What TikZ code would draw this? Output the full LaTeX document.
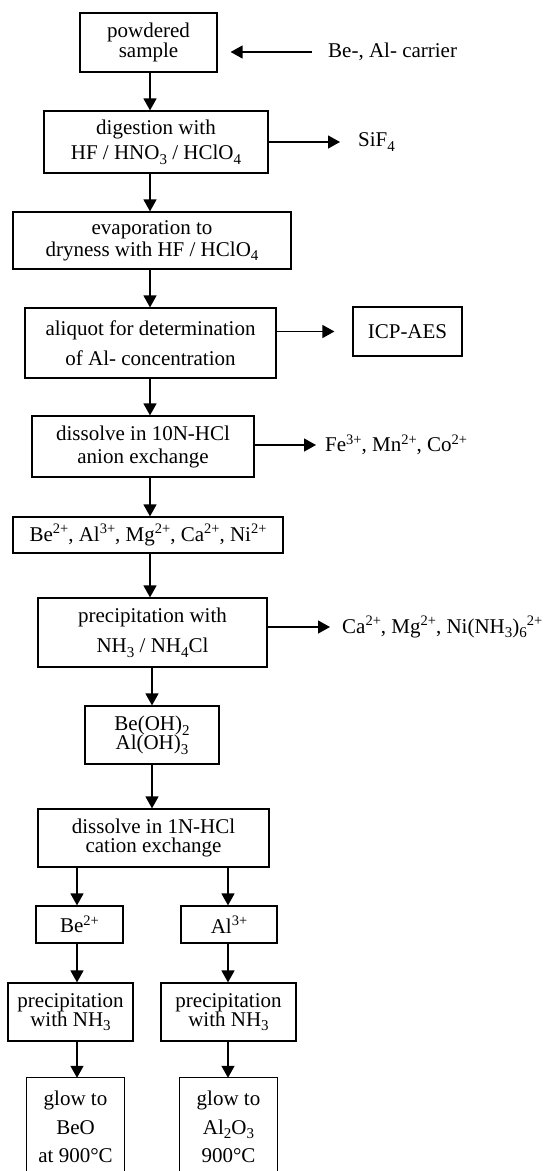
\documentclass[tikz,border=0pt]{standalone}
\usepackage{fontspec}
\setmainfont{Liberation Serif}
\usetikzlibrary{arrows.meta}
\newcommand{\sbs}[1]{\raisebox{-0.22em}{\fontsize{15}{15}\selectfont #1}}
\newcommand{\sps}[1]{\raisebox{0.36em}{\fontsize{14.5}{14.5}\selectfont #1}}
\tikzset{
  txt/.style={font=\fontsize{21}{20}\selectfont},
  box/.style={txt, draw, line width=1.2pt, inner sep=0pt, align=center},
  openbox/.style={txt, inner sep=0pt, align=center},
  lbl/.style={txt, inner sep=0pt, anchor=west},
  arr/.style={line width=1.3pt, -{Triangle[length=12pt,width=13pt]}},
}
\newcommand{\bx}[7][box]{\node[#1, minimum width={#5-#3}, minimum height={#6-#4}] (#2) at ({(#3+#5)/2},{(#4+#6)/2}) {#7};}
\begin{document}
\begin{tikzpicture}[x=1pt,y=-1pt]
\useasboundingbox (0,0) rectangle (552,1171);
% main column
\bx{n1}{80}{13}{217}{72}{powdered\\sample}
\bx{n2}{44}{111}{268}{173}{digestion with\\[5pt]HF / HNO\sbs{3} / HClO\sbs{4}}
\bx{n3}{13}{212}{291}{269}{evaporation to\\[2pt]dryness with HF / HClO\sbs{4}}
\bx{n4}{25}{308}{276}{378}{aliquot for determination\\[10pt]of Al- concentration}
\bx{icp}{353}{307}{462}{356}{ICP-AES}
\bx{n5}{32}{416}{254}{477}{dissolve in 10N-HCl\\[3pt]anion exchange}
\bx{n6}{13}{517}{283}{553}{Be\sps{2+}, Al\sps{3+}, Mg\sps{2+}, Ca\sps{2+}, Ni\sps{2+}}
\bx{n7}{38}{598}{267}{667}{precipitation with\\[10pt]NH\sbs{3} / NH\sbs{4}Cl}
\bx{n8}{85}{706}{219}{764}{Be(OH)\sbs{2}\\[-1pt]Al(OH)\sbs{3}}
\bx{n9}{38}{809}{269}{867}{dissolve in 1N-HCl\\[-1pt]cation exchange}
% branches
\bx{be}{36}{906}{123}{943}{Be\sps{2+}}
\bx{al}{181}{906}{277}{943}{Al\sps{3+}}
\bx{p1}{8}{983}{133}{1041}{precipitation\\[-1pt]with NH\sbs{3}}
\bx{p2}{161}{983}{296}{1041}{precipitation\\[-1pt]with NH\sbs{3}}
\bx[openbox]{g1}{27}{1078}{124}{1176}{glow to\\[8.5pt]BeO\\[8.5pt]at 900°C}
\bx[openbox]{g2}{180}{1078}{277}{1176}{glow to\\[8.5pt]Al\sbs{2}O\sbs{3}\\[8.5pt]900°C}
\draw[line width=1.2pt] (g1.south west) |- (g1.north east) -- (g1.south east);
\draw[line width=1.2pt] (g2.south west) |- (g2.north east) -- (g2.south east);
% side labels
\node[lbl] (car) at (328,52) {Be-, Al- carrier};
\node[lbl] (sif) at (358,142) {SiF\sbs{4}};
\node[lbl] (fe) at (325,445) {Fe\sps{3+}, Mn\sps{2+}, Co\sps{2+}};
\node[lbl] (ca) at (342,627) {Ca\sps{2+}, Mg\sps{2+}, Ni(NH\sbs{3})\sbs{6}\sps{2+}};
% column coordinates
\coordinate (c1) at (150,0);
\coordinate (c2) at (152,0);
\coordinate (cl) at (77,0);
\coordinate (cr) at (228,0);
% vertical arrows
\draw[arr] (n1.south -| c1) -- (n2.north -| c1);
\draw[arr] (n2.south -| c1) -- (n3.north -| c1);
\draw[arr] (n3.south -| c1) -- (n4.north -| c1);
\draw[arr] (n4.south -| c1) -- (n5.north -| c1);
\draw[arr] (n5.south -| c1) -- (n6.north -| c1);
\draw[arr] (n6.south -| c1) -- (n7.north -| c1);
\draw[arr] (n7.south -| c2) -- (n8.north -| c2);
\draw[arr] (n8.south -| c2) -- (n9.north -| c2);
\draw[arr] (n9.south -| cl) -- (be.north -| cl);
\draw[arr] (n9.south -| cr) -- (al.north -| cr);
\draw[arr] (be.south -| cl) -- (p1.north -| cl);
\draw[arr] (al.south -| cr) -- (p2.north -| cr);
\draw[arr] (p1.south -| cl) -- (g1.north -| cl);
\draw[arr] (p2.south -| cr) -- (g2.north -| cr);
% horizontal arrows
\draw[arr, shorten <=16pt, shorten >=13pt] (car.west) -- (n1.east |- car.west);
\draw[arr, shorten >=18pt] (n2.east |- sif.west) -- (sif.west);
\draw[arr, shorten >=18pt] (n4.east |- icp.west) -- (icp.west);
\draw[arr, shorten >=9pt] (n5.east |- fe.west) -- (fe.west);
\draw[arr, shorten >=12pt] (n7.east |- ca.west) -- (ca.west);
\end{tikzpicture}
\end{document}
